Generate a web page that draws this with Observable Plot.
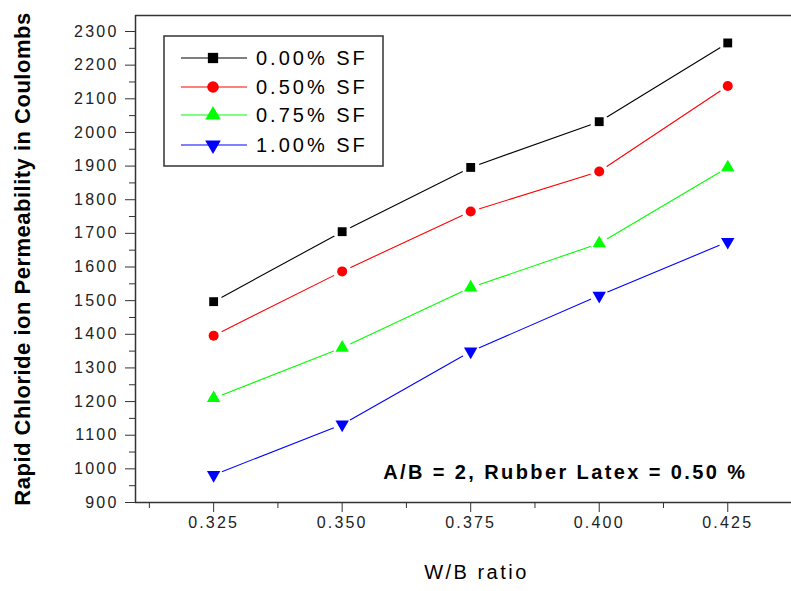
<!DOCTYPE html>
<html>
<head>
<meta charset="utf-8">
<script src="https://cdn.jsdelivr.net/npm/d3@7"></script>
<script src="https://cdn.jsdelivr.net/npm/@observablehq/plot@0.6"></script>
<style>
  html, body { margin: 0; padding: 0; background: #ffffff; }
  #chart svg { display: block; }
</style>
</head>
<body>
<div id="chart"></div>
<script>
// ---- data ----
const wbRatio = [0.325, 0.350, 0.375, 0.400, 0.425];
const seriesNames = ["0.00% SF", "0.50% SF", "0.75% SF", "1.00% SF"];
const sf000 = [1497, 1705, 1896, 2032, 2266];
const sf050 = [1396, 1587, 1765, 1884, 2138];
const sf075 = [1210, 1360, 1539, 1670, 1896];
const sf100 = [982, 1132, 1349, 1515, 1675];
const seriesColors = ["#000000", "#ff0000", "#00ff00", "#0000ff"];
const yTicks = [900, 1000, 1100, 1200, 1300, 1400, 1500, 1600, 1700, 1800, 1900, 2000, 2100, 2200, 2300];
const yMinorTicks = [950, 1050, 1150, 1250, 1350, 1450, 1550, 1650, 1750, 1850, 1950, 2050, 2150, 2250];
const xTicks = [0.325, 0.350, 0.375, 0.400, 0.425];
const xMinorTicks = [0.3125, 0.3375, 0.3625, 0.3875, 0.4125];
const xDomain = [0.3098, 0.4374];
const yDomain = [900, 2347.6];
const yTitle = "Rapid Chloride ion Permeability in Coulombs";
const xTitle = "W/B ratio";
const note = "A/B = 2, Rubber Latex = 0.50 %";

const allSeries = [sf000, sf050, sf075, sf100];
const rows = allSeries.flatMap((vals, i) =>
  vals.map((v, j) => ({ wb: wbRatio[j], value: v, series: seriesNames[i] }))
);

const triangleDown = {
  draw(context, size) {
    const y = -Math.sqrt(size / (Math.sqrt(3) * 3));
    context.moveTo(0, -y * 2);
    context.lineTo(-Math.sqrt(3) * y, y);
    context.lineTo(Math.sqrt(3) * y, y);
    context.closePath();
  }
};
const symbolTypes = [d3.symbolSquare, d3.symbolCircle, d3.symbolTriangle, triangleDown];

const FONT = "'Liberation Sans', Arial, sans-serif";
const AXIS = "#333333";

const chart = Plot.plot({
  width: 791,
  height: 591,
  marginLeft: 135,
  marginRight: 0,
  marginTop: 15,
  marginBottom: 89,
  style: { fontFamily: FONT, fontSize: "16px", color: "#222", background: "#fff" },
  x: { domain: xDomain },
  y: { domain: yDomain },
  color: { domain: seriesNames, range: seriesColors },
  symbol: { domain: seriesNames, range: symbolTypes },
  marks: [
    Plot.ruleY([yDomain[1]], { stroke: AXIS, strokeWidth: 1.5 }),
    Plot.ruleY([yDomain[0]], { stroke: AXIS, strokeWidth: 1.5 }),
    Plot.ruleX([xDomain[0]], { stroke: AXIS, strokeWidth: 1.5 }),
    Plot.axisY(yTicks, { tickSize: 10, tickPadding: 7, tickFormat: d3.format("d"), label: null, stroke: AXIS, fontSize: 16 }),
    Plot.axisY(yMinorTicks, { tickSize: 6, tickFormat: () => "", label: null, stroke: AXIS }),
    Plot.axisX(xTicks, { tickSize: 10, tickPadding: 4, tickFormat: d3.format(".3f"), label: null, stroke: AXIS, fontSize: 16 }),
    Plot.axisX(xMinorTicks, { tickSize: 6, tickFormat: () => "", label: null, stroke: AXIS }),
    Plot.line(rows, { x: "wb", y: "value", z: "series", stroke: "series", strokeWidth: 1.1 }),
    Plot.dot(rows, { x: "wb", y: "value", r: 9, fill: "white", stroke: null }),
    Plot.dot(rows, { x: "wb", y: "value", symbol: "series", fill: "series", r: 5 }),
    Plot.text([yTitle], { frameAnchor: "left", textAnchor: "middle", rotate: -90, dx: -113, fontSize: 22, fontWeight: "bold", fill: "#000" }),
    Plot.text([xTitle], { frameAnchor: "bottom", textAnchor: "middle", dy: 76, dx: 13, fontSize: 20, fill: "#000" }),
    Plot.text([note], { frameAnchor: "bottom-right", textAnchor: "end", dx: -44, dy: -24, fontSize: 20, fontWeight: "bold", fill: "#000" })
  ]
});

const svg = d3.select(chart);
svg.selectAll("text").each(function () {
  const t = this.textContent;
  const sel = d3.select(this);
  if (t === yTitle) sel.attr("letter-spacing", "0.5px");
  else if (t === xTitle) sel.attr("letter-spacing", "2.5px");
  else if (t === note) sel.attr("letter-spacing", "2.4px");
  else sel.attr("letter-spacing", "2.2px");
});

// legend box (inside plot area)
const lg = svg.append("g").attr("font-family", FONT).attr("text-anchor", "start");
lg.append("rect").attr("x", 164).attr("y", 36).attr("width", 219).attr("height", 130)
  .attr("fill", "white").attr("stroke", AXIS).attr("stroke-width", 1.5);
const rowY = [58, 87, 115, 145];
seriesNames.forEach((name, i) => {
  lg.append("line").attr("x1", 181).attr("x2", 247).attr("y1", rowY[i]).attr("y2", rowY[i])
    .attr("stroke", seriesColors[i]).attr("stroke-width", 1.1);
  lg.append("path").attr("d", d3.symbol(symbolTypes[i], Math.PI * 5.8 * 5.8)())
    .attr("transform", `translate(213,${rowY[i]})`).attr("fill", seriesColors[i]);
  lg.append("text").attr("x", 256).attr("y", rowY[i]).attr("dy", "0.35em")
    .attr("text-anchor", "start")
    .attr("font-size", 20).attr("letter-spacing", "3px").attr("fill", "#000").text(name);
});

document.getElementById("chart").appendChild(chart);
</script>
</body>
</html>
